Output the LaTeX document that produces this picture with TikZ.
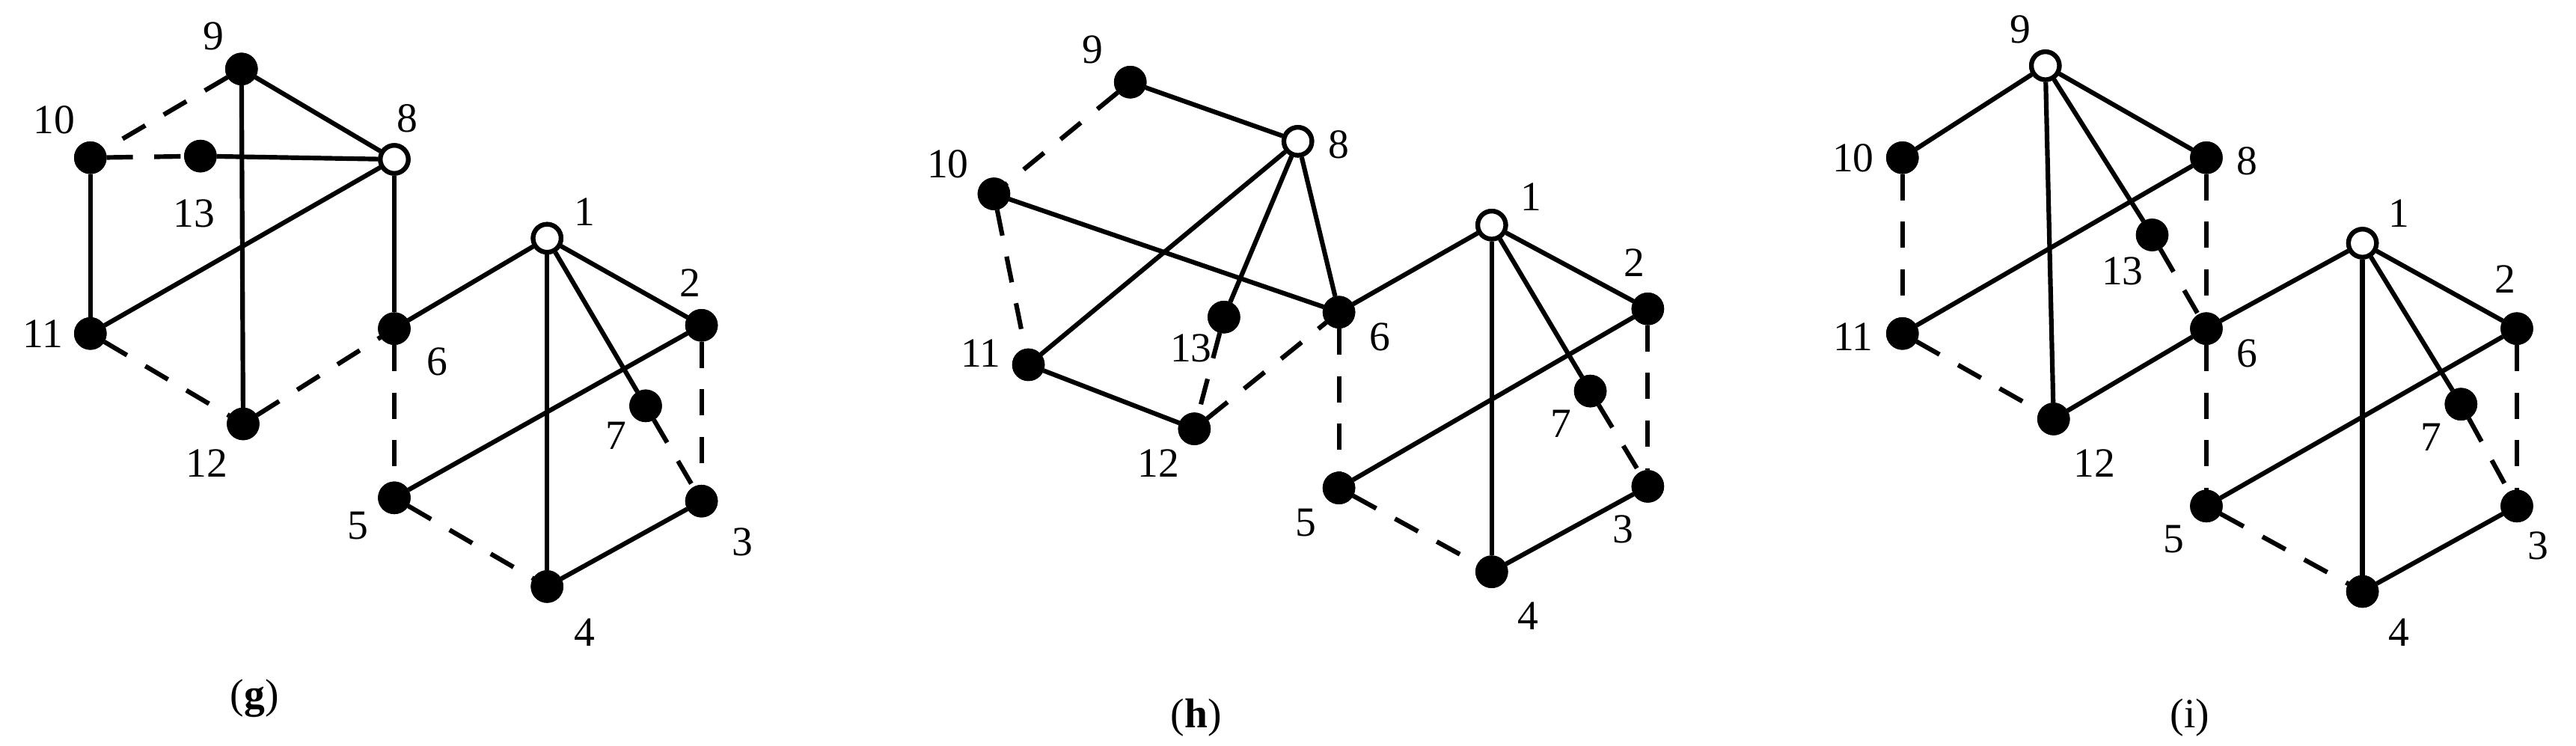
\documentclass[tikz,border=0pt]{standalone}
\usepackage{fontspec}
\setmainfont{Liberation Serif}
\begin{document}
\begin{tikzpicture}[x=0.1cm,y=-0.1cm,
  v/.style={circle,fill=black,draw=black,line width=8pt,minimum size=1.7cm,inner sep=0pt},
  o/.style={circle,fill=white,draw=black,line width=8pt,minimum size=1.7cm,inner sep=0pt},
  s/.style={line width=8pt},
  d/.style={line width=8pt,dash pattern=on 1.6cm off 1.3cm},
  lb/.style={font=\fontsize{72}{72}\selectfont,inner sep=0pt},
  captxt/.style={font=\fontsize{72}{72}\selectfont,inner sep=0pt}]
\useasboundingbox (0,0) rectangle (1568,454);
% ---------- (g)
\node[v] (g9) at (147,42) {}; \node[v] (g10) at (55,96) {}; \node[v] (g13) at (122,95) {};
\node[o] (g8) at (240,97) {}; \node[v] (g11) at (55,203) {}; \node[v] (g6) at (240,200) {};
\node[v] (g12) at (148,258) {}; \node[o] (g1) at (333,145) {}; \node[v] (g2) at (427,198) {};
\node[v] (g7) at (393,247) {}; \node[v] (g5) at (240,303) {}; \node[v] (g3) at (427,305) {};
\node[v] (g4) at (333,357) {};
\draw[d] (g9)--(g10); \draw[d] (g10)--(g13); \draw[s] (g9)--(g8); \draw[s] (g9)--(g12);
\draw[s] (g13)--(g8); \draw[s] (g10)--(g11); \draw[s] (g11)--(g8); \draw[s] (g8)--(g6);
\draw[d] (g11)--(g12); \draw[d] (g12)--(g6); \draw[s] (g6)--(g1); \draw[d] (g6)--(g5);
\draw[s] (g1)--(g2); \draw[s] (g1)--(g4); \draw[s] (g1)--(g7); \draw[s] (g2)--(g5);
\draw[d] (g2)--(g3); \draw[d] (g7)--(g3); \draw[d] (g5)--(g4); \draw[s] (g4)--(g3);
\foreach \n in {g9,g10,g13,g11,g6,g12,g2,g7,g5,g3,g4} {\node[v] at (\n) {};}
\foreach \n in {g8,g1} {\node[o] at (\n) {};}
\node[lb] (lg9) at (130,22) {9}; \node[lb] (lg10) at (33,73) {10}; \node[lb] (lg13) at (118,130) {13};
\node[lb] (lg8) at (248,72) {8}; \node[lb] (lg11) at (26,203) {11}; \node[lb] (lg6) at (266,220) {6};
\node[lb] (lg12) at (126,282) {12}; \node[lb] (lg1) at (356,129) {1}; \node[lb] (lg2) at (420,172) {2};
\node[lb] (lg7) at (375,265) {7}; \node[lb] (lg5) at (218,320) {5}; \node[lb] (lg3) at (452,330) {3};
\node[lb] (lg4) at (356,385) {4};
\node[captxt] (cg) at (155,425) {(\textbf{g})};
% ---------- (h)
\node[v] (h9) at (688,50) {}; \node[o] (h8) at (790,86) {}; \node[v] (h10) at (605,118) {};
\node[v] (h11) at (626,222) {}; \node[v] (h13) at (745,193) {}; \node[v] (h12) at (727,261) {};
\node[v] (h6) at (815,190) {}; \node[o] (h1) at (908,137) {}; \node[v] (h2) at (1003,188) {};
\node[v] (h7) at (968,238) {}; \node[v] (h5) at (815,297) {}; \node[v] (h3) at (1003,296) {};
\node[v] (h4) at (908,348) {};
\draw[s] (h9)--(h8); \draw[d] (h9)--(h10); \draw[s] (h10)--(h6); \draw[d] (h10)--(h11);
\draw[s] (h11)--(h8); \draw[s] (h11)--(h12); \draw[s] (h8)--(h13); \draw[s] (h8)--(h6);
\draw[d] (h13)--(h12); \draw[d] (h12)--(h6); \draw[s] (h6)--(h1); \draw[d] (h6)--(h5);
\draw[s] (h1)--(h2); \draw[s] (h1)--(h4); \draw[s] (h1)--(h7); \draw[s] (h2)--(h5);
\draw[d] (h2)--(h3); \draw[d] (h7)--(h3); \draw[d] (h5)--(h4); \draw[s] (h4)--(h3);
\foreach \n in {h9,h10,h13,h11,h6,h12,h2,h7,h5,h3,h4} {\node[v] at (\n) {};}
\foreach \n in {h8,h1} {\node[o] at (\n) {};}
\node[lb] (lh9) at (665,30) {9}; \node[lb] (lh10) at (577,100) {10}; \node[lb] (lh13) at (725,212) {13};
\node[lb] (lh8) at (815,88) {8}; \node[lb] (lh11) at (597,215) {11}; \node[lb] (lh6) at (840,205) {6};
\node[lb] (lh12) at (705,282) {12}; \node[lb] (lh1) at (932,120) {1}; \node[lb] (lh2) at (995,160) {2};
\node[lb] (lh7) at (950,258) {7}; \node[lb] (lh5) at (795,318) {5}; \node[lb] (lh3) at (988,322) {3};
\node[lb] (lh4) at (930,375) {4};
\node[captxt] (ch) at (728,437) {(\textbf{h})};
% ---------- (i)
\node[o] (i9) at (1245,40) {}; \node[v] (i10) at (1158,96) {}; \node[v] (i8) at (1343,96) {};
\node[v] (i13) at (1310,143) {}; \node[v] (i11) at (1158,203) {}; \node[v] (i6) at (1343,200) {};
\node[v] (i12) at (1250,255) {}; \node[o] (i1) at (1438,148) {}; \node[v] (i2) at (1532,200) {};
\node[v] (i7) at (1498,246) {}; \node[v] (i5) at (1343,308) {}; \node[v] (i3) at (1532,308) {};
\node[v] (i4) at (1438,360) {};
\draw[s] (i9)--(i10); \draw[s] (i9)--(i8); \draw[s] (i9)--(i12); \draw[s] (i9)--(i13);
\draw[d] (i13)--(i6); \draw[d] (i8)--(i6); \draw[s] (i8)--(i11); \draw[d] (i10)--(i11);
\draw[d] (i11)--(i12); \draw[s] (i12)--(i6); \draw[s] (i6)--(i1); \draw[d] (i6)--(i5);
\draw[s] (i1)--(i2); \draw[s] (i1)--(i4); \draw[s] (i1)--(i7); \draw[s] (i2)--(i5);
\draw[d] (i2)--(i3); \draw[d] (i7)--(i3); \draw[d] (i5)--(i4); \draw[s] (i4)--(i3);
\foreach \n in {i10,i8,i13,i11,i6,i12,i2,i7,i5,i3,i4} {\node[v] at (\n) {};}
\foreach \n in {i9,i1} {\node[o] at (\n) {};}
\node[lb] (li9) at (1230,18) {9}; \node[lb] (li10) at (1128,96) {10}; \node[lb] (li13) at (1292,165) {13};
\node[lb] (li8) at (1368,98) {8}; \node[lb] (li11) at (1128,205) {11}; \node[lb] (li6) at (1368,215) {6};
\node[lb] (li12) at (1275,282) {12}; \node[lb] (li1) at (1460,130) {1}; \node[lb] (li2) at (1525,170) {2};
\node[lb] (li7) at (1480,266) {7}; \node[lb] (li5) at (1323,328) {5}; \node[lb] (li3) at (1545,332) {3};
\node[lb] (li4) at (1460,385) {4};
\node[captxt] (ci) at (1333,437) {(i)};
\end{tikzpicture}
\end{document}
